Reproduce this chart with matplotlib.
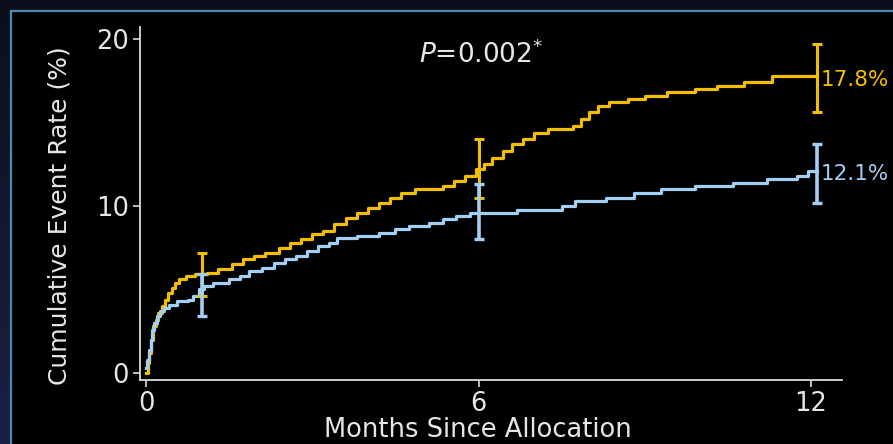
import numpy as np
import matplotlib
matplotlib.use("Agg")
import matplotlib.pyplot as plt
from matplotlib.patches import Rectangle
from matplotlib.colors import LinearSegmentedColormap

# Kaplan-Meier style cumulative event curves (months, %)
gold_months = [0.0, 0.03, 0.06, 0.09, 0.12, 0.17, 0.22, 0.28, 0.34, 0.40, 0.46, 0.52,
               0.60, 0.72, 0.88, 1.10, 1.30, 1.55, 1.75, 1.95, 2.15, 2.40, 2.60, 2.80,
               3.00, 3.20, 3.40, 3.60, 3.80, 4.00, 4.20, 4.40, 4.60, 4.85, 5.35, 5.55,
               5.75, 5.95, 6.10, 6.25, 6.45, 6.60, 6.80, 7.00, 7.25, 7.70, 7.85, 8.00,
               8.15, 8.35, 8.70, 9.00, 9.40, 9.90, 10.30, 10.80, 11.30, 12.10]
gold_rate = [0.0, 0.6, 1.2, 2.0, 2.8, 3.2, 3.6, 4.0, 4.4, 4.8, 5.1, 5.4,
             5.6, 5.8, 5.9, 6.0, 6.2, 6.5, 6.8, 7.0, 7.2, 7.5, 7.8, 8.0,
             8.3, 8.5, 8.9, 9.3, 9.6, 9.9, 10.2, 10.5, 10.8, 11.0, 11.2, 11.5,
             11.8, 12.2, 12.5, 12.9, 13.3, 13.7, 14.0, 14.4, 14.6, 14.8, 15.2, 15.6,
             16.0, 16.2, 16.4, 16.6, 16.8, 17.0, 17.2, 17.4, 17.8, 17.8]

blue_months = [0.0, 0.02, 0.05, 0.08, 0.11, 0.15, 0.20, 0.25, 0.32, 0.42, 0.55, 0.75,
               0.85, 0.95, 1.05, 1.20, 1.50, 1.70, 1.85, 2.10, 2.30, 2.50, 2.70, 2.90,
               3.10, 3.30, 3.45, 3.80, 4.20, 4.50, 4.75, 5.10, 5.35, 5.60, 5.85, 6.70,
               7.50, 7.75, 8.30, 8.80, 9.30, 9.90, 10.60, 11.20, 11.75, 11.95, 12.10]
blue_rate = [0.3, 0.8, 1.4, 2.0, 2.6, 3.0, 3.4, 3.7, 3.9, 4.1, 4.3, 4.4,
             4.6, 5.0, 5.2, 5.4, 5.6, 5.8, 6.1, 6.3, 6.6, 6.8, 7.0, 7.3,
             7.6, 7.8, 8.1, 8.2, 8.4, 8.6, 8.8, 9.0, 9.2, 9.4, 9.6, 9.75,
             10.0, 10.3, 10.5, 10.8, 11.0, 11.2, 11.4, 11.6, 11.8, 12.1, 12.1]

# Confidence intervals at landmark times
ci_months = [1.0, 6.0, 12.1]
gold_ci_mid = [5.9, 12.2, 17.8]
gold_ci_low = [4.6, 10.5, 15.6]
gold_ci_high = [7.2, 14.0, 19.7]
blue_ci_mid = [4.7, 9.6, 12.1]
blue_ci_low = [3.4, 8.0, 10.2]
blue_ci_high = [5.9, 11.3, 13.7]

x_ticks = [0, 6, 12]
y_ticks = [0, 10, 20]
gold_label = "17.8%"
blue_label = "12.1%"
p_text = r"$\mathit{P}$=0.002$^{*}$"

GOLD = "#f2be00"
BLUE = "#a2cff3"
TEXT = "#e6e6e6"

plt.rcParams["font.family"] = ["DejaVu Sans"]

W, H = 893, 444
fig = plt.figure(figsize=(W / 100, H / 100), dpi=100)

# navy gradient backdrop
bg = fig.add_axes([0, 0, 1, 1], zorder=-10)
grad = np.linspace(0, 1, 256).reshape(-1, 1)
cmap = LinearSegmentedColormap.from_list("navy", ["#0b0f1c", "#1b2143"])
bg.imshow(grad, aspect="auto", cmap=cmap, extent=[0, 1, 0, 1], origin="upper")
bg.set_axis_off()

# black panel with a thin steel-blue frame
panel = Rectangle((11 / W, -0.05), 1.2, (H - 11) / H + 0.05, transform=fig.transFigure,
                  facecolor="black", edgecolor="#4b8aae", linewidth=1.6, zorder=-5)
fig.patches.append(panel)

ax = fig.add_axes([140 / W, 64 / H, (842 - 140) / W, (380 - 27) / H])
ax.set_facecolor("none")

ax.plot(gold_months, gold_rate, drawstyle="steps-post", color=GOLD, lw=2.3, zorder=3)
ax.plot(blue_months, blue_rate, drawstyle="steps-post", color=BLUE, lw=2.3, zorder=4)

gold_err = [np.subtract(gold_ci_mid, gold_ci_low), np.subtract(gold_ci_high, gold_ci_mid)]
blue_err = [np.subtract(blue_ci_mid, blue_ci_low), np.subtract(blue_ci_high, blue_ci_mid)]
ax.errorbar(ci_months, gold_ci_mid, yerr=gold_err, fmt="none", ecolor=GOLD,
            elinewidth=2.2, capsize=3.8, capthick=2.2, zorder=5)
ax.errorbar(ci_months, blue_ci_mid, yerr=blue_err, fmt="none", ecolor=BLUE,
            elinewidth=2.6, capsize=3.8, capthick=2.4, zorder=6)

ax.annotate(gold_label, xy=(ci_months[-1], gold_ci_mid[-1]), xytext=(3, -3),
            textcoords="offset points", va="center", ha="left", color=GOLD,
            fontsize=15.5, annotation_clip=False)
ax.annotate(blue_label, xy=(ci_months[-1], blue_ci_mid[-1]), xytext=(3, -2),
            textcoords="offset points", va="center", ha="left", color=BLUE,
            fontsize=15.5, annotation_clip=False)

ax.text(0.486, 0.921, p_text, transform=ax.transAxes, ha="center", va="center",
        color=TEXT, fontsize=19)

ax.set_xlim(-0.11, 12.56)
ax.set_ylim(-0.42, 20.72)
ax.set_xticks(x_ticks)
ax.set_yticks(y_ticks)
for side in ("top", "right"):
    ax.spines[side].set_visible(False)
for side in ("left", "bottom"):
    ax.spines[side].set_color("#dcdcdc")
    ax.spines[side].set_linewidth(1.3)
ax.tick_params(colors="#dcdcdc", labelcolor=TEXT, labelsize=18.5, length=5, width=1.2,
               direction="out")
ax.tick_params(axis="y", pad=3)
ax.tick_params(axis="x", pad=3)

ax.set_xlabel("Months Since Allocation", color=TEXT, fontsize=18.5, va="baseline")
ax.xaxis.set_label_coords(0.481, (380 - 437) / 353)
ax.set_ylabel("Cumulative Event Rate (%)", color=TEXT, fontsize=18, va="center")
ax.yaxis.set_label_coords(-0.114, 0.466)

fig.savefig("out.png", dpi=100, facecolor=fig.get_facecolor())
